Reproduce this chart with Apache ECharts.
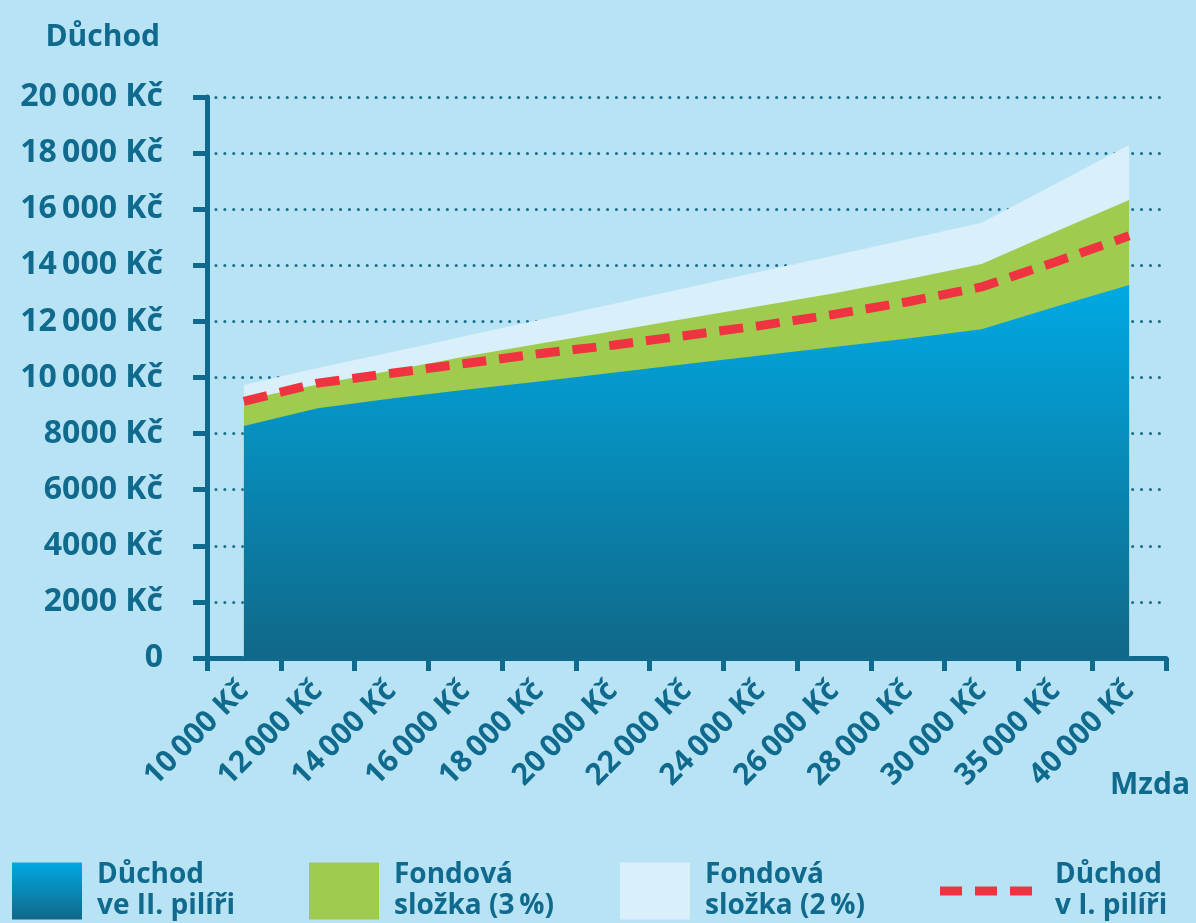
<!DOCTYPE html>
<html><head><meta charset="utf-8">
<script src="https://cdn.jsdelivr.net/npm/echarts@6/dist/echarts.min.js"></script>
<style>html,body{margin:0;padding:0;background:#b7e3f4}#c{width:1196px;height:923px}</style>
</head><body><div id="c"></div>
<script>
// ---- data ----
const categories = ['10\u2009000 Kč','12\u2009000 Kč','14\u2009000 Kč','16\u2009000 Kč','18\u2009000 Kč','20\u2009000 Kč','22\u2009000 Kč','24\u2009000 Kč','26\u2009000 Kč','28\u2009000 Kč','30\u2009000 Kč','35\u2009000 Kč','40\u2009000 Kč'];
// levels (cumulative tops of each band)
const pillarII   = [8270, 8900, 9250, 9560, 9860, 10170, 10480, 10780, 11090, 11390, 11720, 12520, 13300];
const fund3Top   = [9200, 9750, 10250, 10750, 11200, 11650, 12100, 12550, 13000, 13500, 14050, 15200, 16330];
const fund2Top   = [9730, 10340, 10900, 11480, 12050, 12620, 13200, 13780, 14350, 14930, 15520, 16900, 18290];
const pillarI    = [9150, 9800, 10150, 10500, 10850, 11150, 11500, 11850, 12250, 12700, 13230, 14120, 15050];
const yTickLabels = ['0','2000 Kč','4000 Kč','6000 Kč','8000 Kč','10\u2009000 Kč','12\u2009000 Kč','14\u2009000 Kč','16\u2009000 Kč','18\u2009000 Kč','20\u2009000 Kč'];
const seriesNames = ['Důchod\nve II. pilíři','Fondová\nsložka (3\u2009%)','Fondová\nsložka (2\u2009%)','Důchod\nv I. pilíři'];

const DARK = '#0f6a8e';
const FONT = 'Open Sans';
const blueGrad = new echarts.graphic.LinearGradient(0,0,0,1,[{offset:0,color:'#00a9e3'},{offset:1,color:'#106888'}]);
const legendText = {color:DARK, fontSize:28, fontWeight:'bold', fontFamily:FONT, lineHeight:31, padding:[0,0,0,10]};
const legendBase = {top:860, padding:0, selectedMode:false, textStyle:legendText};

const chart = echarts.init(document.getElementById('c'));
chart.setOption({
  backgroundColor:'#b7e3f4',
  animation:false,
  grid:{left:207, right:30, top:97, bottom:265, containLabel:false},
  xAxis:{
    type:'category', data:categories, boundaryGap:true,
    name:'Mzda', nameLocation:'end', nameGap:24,
    nameTextStyle:{color:DARK, fontSize:30, fontWeight:'bold', fontFamily:FONT, align:'right', verticalAlign:'top', padding:[112,0,0,0]},
    axisLine:{lineStyle:{color:DARK, width:5}},
    axisTick:{show:true, length:13, lineStyle:{color:DARK, width:5}},
    axisLabel:{rotate:45, margin:28, color:DARK, fontSize:30, fontWeight:'bold', fontFamily:FONT},
    splitLine:{show:false}
  },
  yAxis:{
    type:'value', min:0, max:20000, interval:2000,
    name:'Důchod', nameLocation:'end', nameGap:45,
    nameTextStyle:{color:DARK, fontSize:30, fontWeight:'bold', fontFamily:FONT, align:'right', padding:[0,47,0,0]},
    axisLine:{show:true, lineStyle:{color:DARK, width:5}},
    axisTick:{show:true, length:14, lineStyle:{color:DARK, width:5}},
    axisLabel:{margin:44, color:DARK, fontSize:32, fontWeight:'bold', fontFamily:FONT,
      formatter:(v)=>yTickLabels[Math.round(v/2000)]},
    splitLine:{show:true, lineStyle:{color:'#1b6f91', width:3, type:[0.1,8.8], cap:'round'}}
  },
  legend:[
    Object.assign({left:12, icon:'rect', itemWidth:70, itemHeight:57,
      data:[{name:seriesNames[0], itemStyle:{color:blueGrad}}]}, legendBase),
    Object.assign({left:309, icon:'rect', itemWidth:70, itemHeight:57,
      data:[{name:seriesNames[1], itemStyle:{color:'#9fcb4f'}}]}, legendBase),
    Object.assign({left:620, icon:'rect', itemWidth:70, itemHeight:57,
      data:[{name:seriesNames[2], itemStyle:{color:'#d9f0fa'}}]}, legendBase),
    Object.assign({}, legendBase, {left:940, icon:'path://M0,0h22v9h-22z M35,0h22v9h-22z M70,0h22v9h-22z', itemWidth:92, itemHeight:9,
      textStyle:Object.assign({}, legendText, {padding:[0,0,0,18]}),
      data:[{name:seriesNames[3], itemStyle:{color:'#ef3340'}}]})
  ],
  series:[
    {name:seriesNames[2], type:'line', data:fund2Top, symbol:'none', color:'#d9f0fa',
      lineStyle:{width:0}, areaStyle:{color:'#d9f0fa', opacity:1}, z:2},
    {name:seriesNames[1], type:'line', data:fund3Top, symbol:'none', color:'#9fcb4f',
      lineStyle:{width:0}, areaStyle:{color:'#9fcb4f', opacity:1}, z:3},
    {name:seriesNames[0], type:'line', data:pillarII, symbol:'none', color:'#00a9e3',
      lineStyle:{width:0}, areaStyle:{color:blueGrad, opacity:1}, z:4},
    {name:seriesNames[3], type:'line', data:pillarI, symbol:'none', color:'#ef3340',
      lineStyle:{width:9, color:'#ef3340', type:[24,13]}, z:5}
  ]
});
</script></body></html>
